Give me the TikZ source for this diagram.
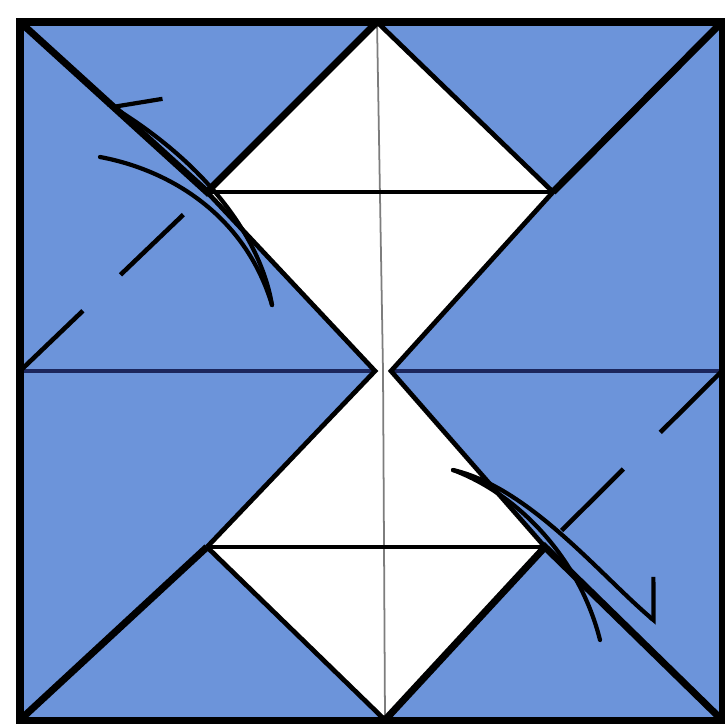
\documentclass[tikz,border=0pt]{standalone}
\usepackage{tikz}
\usetikzlibrary{arrows.meta}
\definecolor{paperblue}{RGB}{108,148,218}
\definecolor{creasenavy}{RGB}{28,38,92}
\definecolor{softgray}{RGB}{125,125,125}

\begin{document}
\begin{tikzpicture}[x=0.01cm, y=-0.01cm,
    edge/.style={line width=2pt, line join=miter},
    crease/.style={line width=1.35pt},
    boldcrease/.style={line width=2pt},
    valley/.style={line width=1.3pt, dash pattern=on 0.87cm off 0.52cm},
    motion/.style={line width=1.2pt, line cap=round},
    pullup/.style={motion, -{Straight Barb[right, length=3.8mm, width=6.6mm]}},
    pulldown/.style={motion, -{Straight Barb[left, length=2.8mm, width=6.6mm]}}
]
\useasboundingbox (0,0) rectangle (725,724);

% corners and crease points of the sheet
\coordinate (tl) at (20,22);
\coordinate (tr) at (722,22);
\coordinate (bl) at (20,720);
\coordinate (br) at (722,720);
\coordinate (top) at (377,22);
\coordinate (bot) at (385,720);
\coordinate (ml) at (20,371);
\coordinate (mr) at (722,371);
\coordinate (cL) at (375,371);
\coordinate (cR) at (391,371);
\coordinate (ul) at (207,192);
\coordinate (ur) at (553,192);
\coordinate (ll) at (207,547);
\coordinate (lr) at (545,547);

% paper and the two white diamonds
\fill[paperblue] (tl) rectangle (br);
\fill[white] (top) -- (ul) -- (cL) -- (cR) -- (ur) -- cycle;
\fill[white] (cL) -- (ll) -- (bot) -- (lr) -- (cR) -- cycle;

% creases
\draw[softgray, line width=0.5pt] (top) -- (383,371) -- (bot);
\draw[creasenavy, line width=0.9pt] (ml) -- (cL) (cR) -- (mr);
\draw[crease] (ul) -- (ur) (ll) -- (lr);
\draw[crease] (ul) -- (cL) -- (ll) (top) -- (ur) -- (cR) -- (lr) (bot) -- (ll);
\draw[boldcrease] (tl) -- (ul) -- (top) (ur) -- (tr) (ll) -- (bl) (bot) -- (lr) -- (br);
\draw[edge] (tl) rectangle (br);

% valley folds
\draw[valley] (ml) -- (ul);
\draw[valley] (mr) -- (lr);

% movement arrows
\draw[pullup] (272,305) .. controls (262,245) and (215,170) .. (108,104);
\draw[motion] (272,305) .. controls (245,215) and (170,170) .. (100,157);
\draw[pulldown] (453,470) .. controls (530,488) and (600,575) .. (657,623);
\draw[motion] (453,470) .. controls (520,495) and (580,560) .. (600,640);

\end{tikzpicture}
\end{document}
